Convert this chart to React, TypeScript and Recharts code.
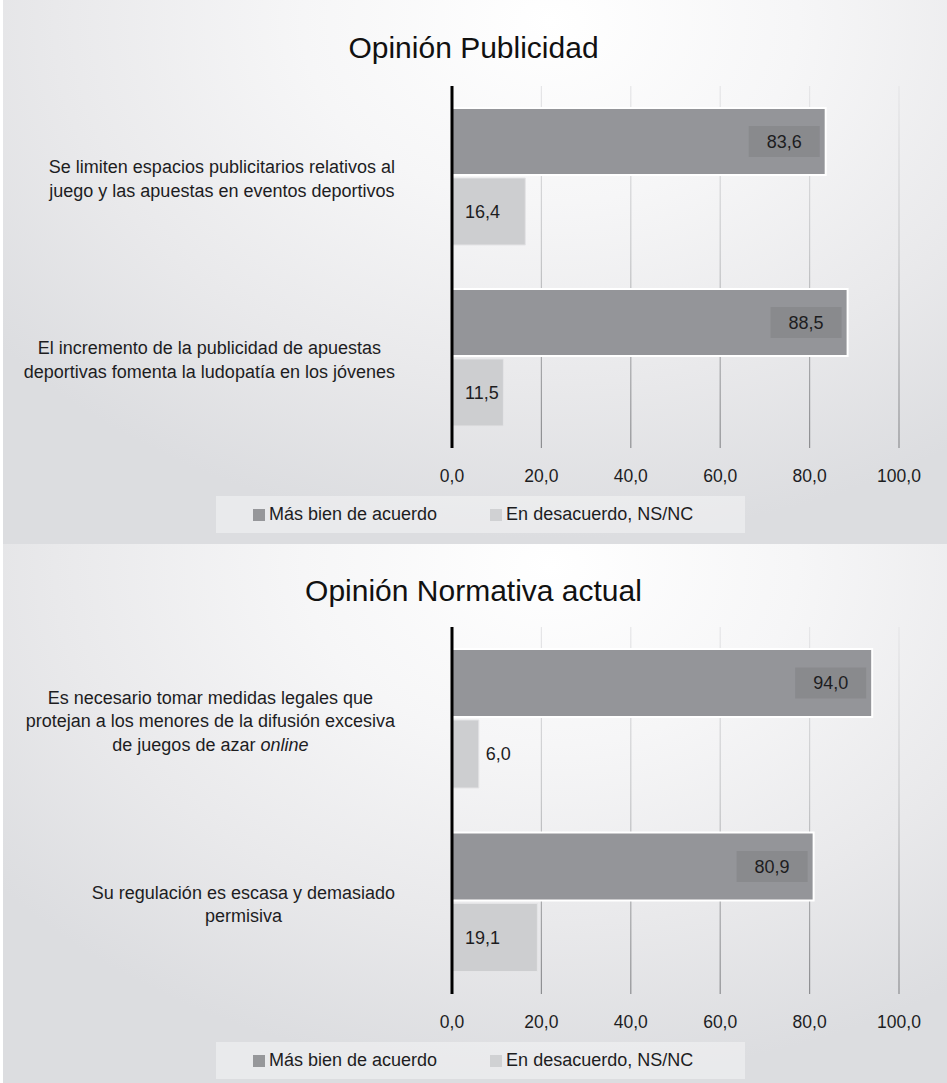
import React from 'react';
import { BarChart, Bar, XAxis, YAxis, CartesianGrid, Legend, LabelList } from 'recharts';

const FONT = '"Liberation Sans", Arial, Helvetica, sans-serif';
const TEXT = '#1d1d1f';
const DARK = '#949599';
const DARK_BOX = '#898a8d';
const LIGHT = '#cdced0';

// Opinión Publicidad
const pubCategories = [
  'Se limiten espacios publicitarios relativos al juego y las apuestas en eventos deportivos',
  'El incremento de la publicidad de apuestas deportivas fomenta la ludopatía en los jóvenes',
];
const pubLines = [
  ['Se limiten espacios publicitarios relativos al', 'juego y las apuestas en eventos deportivos'],
  ['El incremento de la publicidad de apuestas', 'deportivas fomenta la ludopatía en los jóvenes'],
];
const pubAcuerdo = [83.6, 88.5];
const pubDesacuerdo = [16.4, 11.5];

// Opinión Normativa actual
const normCategories = [
  'Es necesario tomar medidas legales que protejan a los menores de la difusión excesiva de juegos de azar online',
  'Su regulación es escasa y demasiado permisiva',
];
const normLines = [
  ['Es necesario tomar medidas legales que', 'protejan a los menores de la difusión excesiva', 'de juegos de azar _online_'],
  ['Su regulación es escasa y demasiado', 'permisiva'],
];
const normAcuerdo = [94.0, 80.9];
const normDesacuerdo = [6.0, 19.1];

const xTicks = [0, 20, 40, 60, 80, 100];
const seriesNames = ['Más bien de acuerdo', 'En desacuerdo, NS/NC'];

const fmt = (v: number) => Number(v).toFixed(1).replace('.', ',');

let ctx: CanvasRenderingContext2D | null = null;
function measure(s: string, italic: boolean) {
  if (!ctx) ctx = document.createElement('canvas').getContext('2d');
  if (!ctx) return s.length * 9;
  ctx.font = `${italic ? 'italic ' : ''}18px ${FONT}`;
  return ctx.measureText(s).width;
}
// "_text_" marks italic segments
const segments = (line: string) => line.split('_').map((t, i) => ({ t, italic: i % 2 === 1 })).filter((s) => s.t);
const lineWidth = (line: string) => segments(line).reduce((a, s) => a + measure(s.t, s.italic), 0);

function CategoryTick(props: any) {
  const { x, y, payload, linesFor } = props;
  const lines: string[] = linesFor[payload.value] || [payload.value];
  const block = Math.max(...lines.map(lineWidth));
  const cx = Number(x) - block / 2;
  const lh = 23.5;
  const y0 = Number(y) - ((lines.length - 1) * lh) / 2 + 2;
  return (
    <text textAnchor="middle" fontSize={18} fontFamily={FONT} fill={TEXT}>
      {lines.map((l, i) => (
        <tspan key={i} x={cx} y={y0 + i * lh + 6.3}>
          {segments(l).map((s, j) => (
            <tspan key={j} fontStyle={s.italic ? 'italic' : 'normal'}>{s.t}</tspan>
          ))}
        </tspan>
      ))}
    </text>
  );
}

const darkLabel = (p: any) => {
  const x = Number(p.x), y = Number(p.y), w = Number(p.width), h = Number(p.height);
  const bw = 71, bh = 31;
  const bx = x + w - 6 - bw;
  return (
    <g>
      <rect x={bx} y={y + h / 2 - bh / 2} width={bw} height={bh} fill={DARK_BOX} />
      <text x={bx + bw / 2} y={y + h / 2} dy="0.35em" textAnchor="middle" fontSize={18} fontFamily={FONT} fill={TEXT}>
        {fmt(p.value)}
      </text>
    </g>
  );
};

const lightLabel = (p: any) => {
  const x = Number(p.x), y = Number(p.y), w = Number(p.width), h = Number(p.height);
  const tx = w < 40 ? x + w + 7 : x + 13;
  return (
    <text x={tx} y={y + h / 2} dy="0.35em" textAnchor="start" fontSize={18} fontFamily={FONT} fill={TEXT}>
      {fmt(p.value)}
    </text>
  );
};

const renderLegend = () => (
  <div
    style={{
      width: '100%',
      height: '100%',
      boxSizing: 'border-box',
      background: 'rgba(255,255,255,0.38)',
      display: 'flex',
      alignItems: 'center',
      paddingLeft: 37,
      gap: 53,
      fontSize: 18,
      fontFamily: FONT,
      color: TEXT,
    }}
  >
    {seriesNames.map((n, i) => (
      <span key={n} style={{ display: 'flex', alignItems: 'center' }}>
        <span style={{ width: 12, height: 12, background: i === 0 ? '#96979a' : '#d0d1d3', marginRight: 4 }} />
        {n}
      </span>
    ))}
  </div>
);

function Panel(props: {
  id: string;
  title: string;
  categories: string[];
  lines: string[][];
  acuerdo: number[];
  desacuerdo: number[];
  height: number;
  titleTop: number;
  plotTop: number;
  plotBottom: number;
  legendTop: number;
}) {
  const { id, title, categories, lines, acuerdo, desacuerdo, height, titleTop, plotTop, plotBottom, legendTop } = props;
  const data = categories.map((c, i) => ({ cat: c, a: acuerdo[i], d: desacuerdo[i] }));
  const linesFor: Record<string, string[]> = {};
  categories.forEach((c, i) => (linesFor[c] = lines[i]));
  const xAxisH = 40;
  const legendH = 37;
  const bottom = height - plotBottom - xAxisH - legendH;
  return (
    <div style={{ position: 'relative', width: 947, height }}>
      <div
        style={{
          position: 'absolute',
          left: 3,
          right: 0,
          top: 0,
          bottom: 0,
          background:
            'radial-gradient(ellipse 75% 95% at 58% 4%, #ffffff 0%, #f6f6f7 35%, #e9e9eb 70%, #dcdde0 100%)',
        }}
      />
      <div
        style={{
          position: 'absolute',
          top: titleTop,
          left: 0,
          width: 947,
          textAlign: 'center',
          fontFamily: FONT,
          fontSize: 30,
          lineHeight: '36px',
          color: '#111',
        }}
      >
        {title}
      </div>
      <div style={{ position: 'absolute', left: 0, top: 0 }}>
        <BarChart
          width={947}
          height={height}
          data={data}
          layout="vertical"
          margin={{ top: plotTop, right: 48, left: 0, bottom }}
          barCategoryGap={22}
          barGap={3}
        >
          <defs>
            <linearGradient id={`grid-${id}`} gradientUnits="userSpaceOnUse" x1={0} y1={plotTop} x2={0} y2={plotBottom}>
              <stop offset="0%" stopColor="#e6e6e8" />
              <stop offset="45%" stopColor="#c9cacc" />
              <stop offset="100%" stopColor="#8c8d90" />
            </linearGradient>
          </defs>
          <CartesianGrid horizontal={false} stroke={`url(#grid-${id})`} strokeWidth={1.2} />
          <Bar dataKey="a" name={seriesNames[0]} fill={DARK} stroke="#ffffff" strokeWidth={2} isAnimationActive={false}>
            <LabelList dataKey="a" content={darkLabel} />
          </Bar>
          <Bar dataKey="d" name={seriesNames[1]} fill={LIGHT} stroke="#e4e4e6" strokeWidth={1} isAnimationActive={false}>
            <LabelList dataKey="d" content={lightLabel} />
          </Bar>
          <XAxis
            type="number"
            domain={[0, 100]}
            ticks={xTicks}
            interval={0}
            height={xAxisH}
            axisLine={false}
            tickLine={false}
            tickMargin={16}
            tickFormatter={fmt}
            tick={{ fontSize: 17.5, fontFamily: FONT, fill: TEXT }}
          />
          <YAxis
            type="category"
            dataKey="cat"
            width={452}
            axisLine={{ stroke: '#000', strokeWidth: 3 }}
            tickLine={false}
            tickMargin={51}
            interval={0}
            tick={(p: any) => <CategoryTick {...p} linesFor={linesFor} />}
          />
          <Legend
            verticalAlign="bottom"
            content={renderLegend}
            wrapperStyle={{ left: 216, width: 529, top: legendTop, height: legendH, bottom: 'auto' }}
          />
        </BarChart>
      </div>
    </div>
  );
}

export default function App() {
  return (
    <div style={{ width: 947, background: '#fff' }}>
      <style>{'body{margin:0;background:#fff}'}</style>
      <Panel
        id="pub"
        title="Opinión Publicidad"
        categories={pubCategories}
        lines={pubLines}
        acuerdo={pubAcuerdo}
        desacuerdo={pubDesacuerdo}
        height={544}
        titleTop={30}
        plotTop={86}
        plotBottom={448}
        legendTop={496}
      />
      <Panel
        id="norm"
        title="Opinión Normativa actual"
        categories={normCategories}
        lines={normLines}
        acuerdo={normAcuerdo}
        desacuerdo={normDesacuerdo}
        height={539}
        titleTop={29}
        plotTop={83}
        plotBottom={450}
        legendTop={498}
      />
    </div>
  );
}
